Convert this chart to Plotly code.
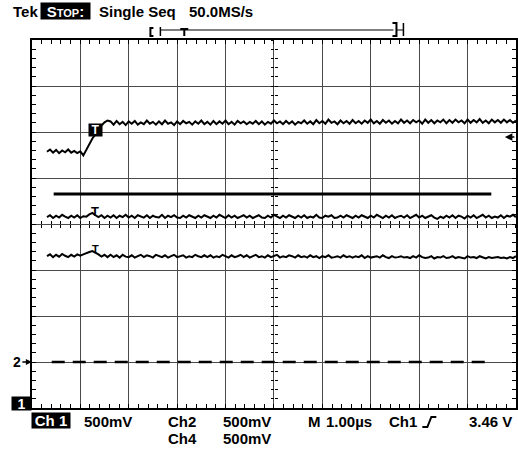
import plotly.graph_objects as go

W, H = 518, 450

# ---------------- data (screen divisions; 1 div = 1.00 us horizontally, 500 mV vertically) ----
SAMPLE_START_DIV = 0.3125
SAMPLE_STEP_DIV = 0.0625

# Ch1 waveform, hundredths of a division
ch1_centi = [
    157, 162, 155, 161, 154, 160, 156, 162, 155, 159, 154, 158, 149,
    162, 176, 186, 195, 205, 214, 221, 225,
    223, 216, 224, 217, 222, 215, 223, 218, 224, 216, 221, 217, 225, 218, 222, 216,
    223, 217, 225, 218, 221, 215, 223, 217, 224, 219, 222, 216, 223, 218, 225, 217,
    222, 216, 224, 217, 223, 218, 225, 217, 222, 216, 224, 219, 223, 217, 222, 218,
    224, 217, 223, 216, 222, 218, 225, 219, 223, 217, 224, 218, 223, 216, 222, 219,
    225, 218, 223, 217, 226, 219, 224, 218, 227, 220, 223, 217, 225, 219, 224, 218,
    226, 219, 224, 218, 225, 220, 227, 219, 224, 218, 226, 220, 225, 218, 224, 219,
    227, 220, 225, 219, 226, 221, 225, 218, 227, 220, 226, 219, 225, 221, 227, 219,
    226, 220, 227, 221, 225, 219, 227, 220, 226, 221, 228, 220, 225, 219, 227, 221,
    226, 220, 227, 221, 226, 220, 225,
]

# Ch2 waveform, hundredths of a division
ch2_centi = [
    15, 19, 13, 18, 14, 20, 16, 13, 18, 14, 19, 13, 17,
    16, 21, 24, 19, 15, 19, 13, 18,
    14, 19, 13, 18, 15, 20, 14, 18, 13, 19, 16, 14, 19, 13, 18, 15,
    14, 20, 13, 18, 15, 19, 14, 13, 18, 14, 19, 16, 13, 18, 14, 19,
    16, 13, 18, 14, 20, 16, 13, 19, 14, 18, 13, 16, 19, 14, 18, 13,
    16, 19, 14, 13, 18, 14, 20, 16, 13, 18, 14, 19, 16, 13, 18, 14,
    19, 13, 16, 14, 20, 14, 13, 18, 16, 19, 13, 14, 18, 14, 19, 16,
    13, 18, 14, 19, 16, 13, 18, 14, 20, 16, 13, 18, 14, 19, 13, 16,
    18, 14, 19, 13, 16, 20, 14, 18, 13, 16, 19, 14, 11, 16, 13, 18,
    14, 19, 13, 18, 16, 12, 18, 14, 19, 13, 16, 20, 14, 18, 13, 16,
    14, 19, 13, 18, 16, 20, 15,
]

# Ch4 waveform, hundredths of a division
ch4_centi = [
    -70, -66, -72, -67, -71, -65, -69, -72, -67, -71, -66, -69, -66,
    -63, -61, -59, -62, -66, -71, -67, -72,
    -67, -72, -68, -73, -67, -71, -72, -68, -73, -70, -67, -72, -68, -70, -73, -67,
    -70, -72, -68, -73, -70, -67, -72, -70, -68, -73, -70, -72, -67, -70, -72, -68,
    -72, -68, -73, -70, -72, -67, -70, -73, -68, -72, -70, -67, -72, -68, -73, -70,
    -67, -72, -70, -73, -68, -72, -70, -67, -73, -70, -72, -68, -70, -73, -68, -72,
    -70, -73, -68, -72, -70, -74, -70, -72, -68, -73, -72, -70, -73, -68, -72, -70,
    -73, -70, -72, -68, -74, -70, -73, -72, -70, -73, -68, -72, -74, -70, -73, -72,
    -70, -73, -72, -74, -70, -73, -68, -72, -74, -73, -70, -75, -72, -73, -70, -74,
    -73, -70, -74, -72, -73, -75, -70, -73, -72, -74, -70, -73, -75, -72, -74, -73,
    -72, -74, -73, -75, -72, -74, -70,
]

# reference / cursor lines (divisions)
solid_ref_x = [0.45, 9.49]
solid_ref_y = [0.65, 0.65]
dashed_ref_x = [0.41, 9.49]
dashed_ref_y = [-3.0, -3.0]

trigger_time_div = 1.31
trigger_level_div = 1.89
ch1_trigger_mark_y = 2.04
ch2_trigger_mark_y = 0.28
ch4_trigger_mark_y = -0.54
ch2_ground_div = -3.0


def sample_times(n):
    return [SAMPLE_START_DIV + SAMPLE_STEP_DIV * i for i in range(n)]


def to_div(vals):
    return [v / 100.0 for v in vals]


FONT = "Liberation Sans, Arial, sans-serif"

fig = go.Figure()
for vals in (ch1_centi, ch2_centi, ch4_centi):
    fig.add_trace(go.Scatter(x=sample_times(len(vals)), y=to_div(vals), mode="lines",
                             line=dict(color="black", width=2), hoverinfo="skip"))

fig.add_trace(go.Scatter(x=solid_ref_x, y=solid_ref_y, mode="lines",
                         line=dict(color="black", width=3), hoverinfo="skip"))
fig.add_trace(go.Scatter(x=dashed_ref_x, y=dashed_ref_y, mode="lines",
                         line=dict(color="black", width=2.5, dash="13px,8px"), hoverinfo="skip"))

# empty traces so that the graticule tick axes are drawn
for xa, ya in (("x2", "y"), ("x3", "y"), ("x4", "y"), ("x", "y2"), ("x", "y3"), ("x", "y4")):
    fig.add_trace(go.Scatter(x=[], y=[], xaxis=xa, yaxis=ya, hoverinfo="skip"))

X0, X1 = 32 / W, 1.0
Y0, Y1 = 1 - 408 / H, 1 - 40 / H
XC = (X0 + X1) / 2
YC = (Y0 + Y1) / 2

base = dict(showticklabels=False, zeroline=False, fixedrange=True)
tickax = dict(showgrid=False, showline=False, tickcolor="black", tickwidth=1, **base)

fig.update_layout(
    width=W, height=H, margin=dict(l=0, r=0, t=0, b=0),
    paper_bgcolor="white", plot_bgcolor="white", showlegend=False,
    xaxis=dict(domain=[X0, X1], range=[0, 10], tick0=0, dtick=1, showgrid=True,
               gridcolor="#4a4a4a", gridwidth=1, ticks="", showline=True,
               linecolor="black", linewidth=1.5, mirror=True, **base),
    yaxis=dict(domain=[Y0, Y1], range=[-4, 4], tick0=0, dtick=1, showgrid=True,
               gridcolor="#4a4a4a", gridwidth=1, ticks="", showline=True,
               linecolor="black", linewidth=1.5, mirror=True, **base),
    xaxis2=dict(overlaying="x", anchor="y", range=[0, 10], tick0=0, dtick=0.2,
                ticks="inside", ticklen=4, mirror="ticks", **tickax),
    xaxis3=dict(overlaying="x", anchor="free", position=YC, range=[0, 10], tick0=0,
                dtick=0.2, ticks="inside", ticklen=3, **tickax),
    xaxis4=dict(overlaying="x", anchor="free", position=YC, range=[0, 10], tick0=0,
                dtick=0.2, ticks="outside", ticklen=3, **tickax),
    yaxis2=dict(overlaying="y", anchor="x", range=[-4, 4], tick0=0, dtick=0.2,
                ticks="inside", ticklen=4, mirror="ticks", **tickax),
    yaxis3=dict(overlaying="y", anchor="free", position=XC, range=[-4, 4], tick0=0,
                dtick=0.2, ticks="inside", ticklen=3, **tickax),
    yaxis4=dict(overlaying="y", anchor="free", position=XC, range=[-4, 4], tick0=0,
                dtick=0.2, ticks="outside", ticklen=3, **tickax),
)


def px(x):
    return x / W


def py(y):
    return 1 - y / H


def label(text, x, y, size=15):
    return dict(text="<b>%s</b>" % text, x=px(x), y=py(y), xref="paper", yref="paper",
                xanchor="left", yanchor="middle", showarrow=False,
                font=dict(family=FONT, size=size, color="black"))


def boxed(text, x0, x1, y0, y1, size=15):
    return dict(text="<b>%s</b>" % text, x=px((x0 + x1) / 2), y=py((y0 + y1) / 2),
                xref="paper", yref="paper", xanchor="center", yanchor="middle",
                showarrow=False, bgcolor="black", borderpad=0,
                width=x1 - x0, height=y1 - y0,
                font=dict(family=FONT, size=size, color="white"))


ann = [
    label("Tek", 11, 12),
    boxed("S<span style='font-size:11px'>TOP</span>:", 41, 90, 3, 19),
    label("Single Seq", 97, 12),
    label("50.0MS/s", 188, 12),
    boxed("Ch 1", 32, 70, 413, 428),
    label("500mV", 82, 421),
    label("Ch2", 167, 421),
    label("500mV", 222, 421),
    label("Ch4", 167, 438),
    label("500mV", 222, 438),
    label("M", 307, 421),
    label("1.00µs", 325, 421),
    label("Ch1", 388, 421),
    label("3.46 V", 469, 421),
    boxed("1", 12, 31, 397, 410, size=14),
    # trigger marks on the channels
    dict(text="<b>T</b>", x=trigger_time_div, y=ch1_trigger_mark_y, xref="x", yref="y",
         showarrow=False, bgcolor="black", width=13, height=12, borderpad=0,
         font=dict(family=FONT, size=12, color="white")),
    dict(text="<b>T</b>", x=trigger_time_div, y=ch2_trigger_mark_y, xref="x", yref="y",
         showarrow=False, font=dict(family=FONT, size=13, color="black")),
    dict(text="<b>T</b>", x=trigger_time_div, y=ch4_trigger_mark_y, xref="x", yref="y",
         showarrow=False, font=dict(family=FONT, size=11, color="black")),
    # trigger level arrow (right edge)
    dict(text="", x=9.77, y=trigger_level_div, xref="x", yref="y", showarrow=True,
         ax=11, ay=0, arrowhead=2, arrowsize=1, arrowwidth=1.5, arrowcolor="black"),
    # Ch2 ground marker
    dict(text="<b>2</b>", x=0, y=ch2_ground_div, xref="x", yref="y", showarrow=True,
         ax=-15, ay=0, arrowhead=2, arrowsize=0.8, arrowwidth=1.5, arrowcolor="black",
         font=dict(family=FONT, size=14, color="black")),
]
fig.update_layout(annotations=ann)


def path(points):
    return "M " + " L ".join("%.5f,%.5f" % (px(a), py(b)) for a, b in points)


deco = [
    ([(154, 28), (151, 28), (151, 36), (154, 36)], 2),   # [
    ([(161, 27), (161, 36)], 1.5),                       # |
    ([(161, 30), (395, 30)], 1),                         # record bar
    ([(181, 29), (189, 29)], 2),                         # T bar
    ([(185, 29), (185, 36)], 2),                         # T stem
    ([(394, 23), (398, 23), (398, 36), (394, 36)], 2),   # ]
    ([(398, 30), (405, 30)], 1),
    ([(405, 23), (405, 36)], 1.5),                       # |
    ([(424, 427), (429, 427), (433, 417), (438, 417)], 2),  # rising edge symbol
]
fig.update_layout(shapes=[dict(type="path", path=path(p), xref="paper", yref="paper",
                               line=dict(color="black", width=w)) for p, w in deco])

fig.write_html("out.html", config={"displayModeBar": False},
               post_script="document.body.style.margin='0';document.body.style.padding='0';")
